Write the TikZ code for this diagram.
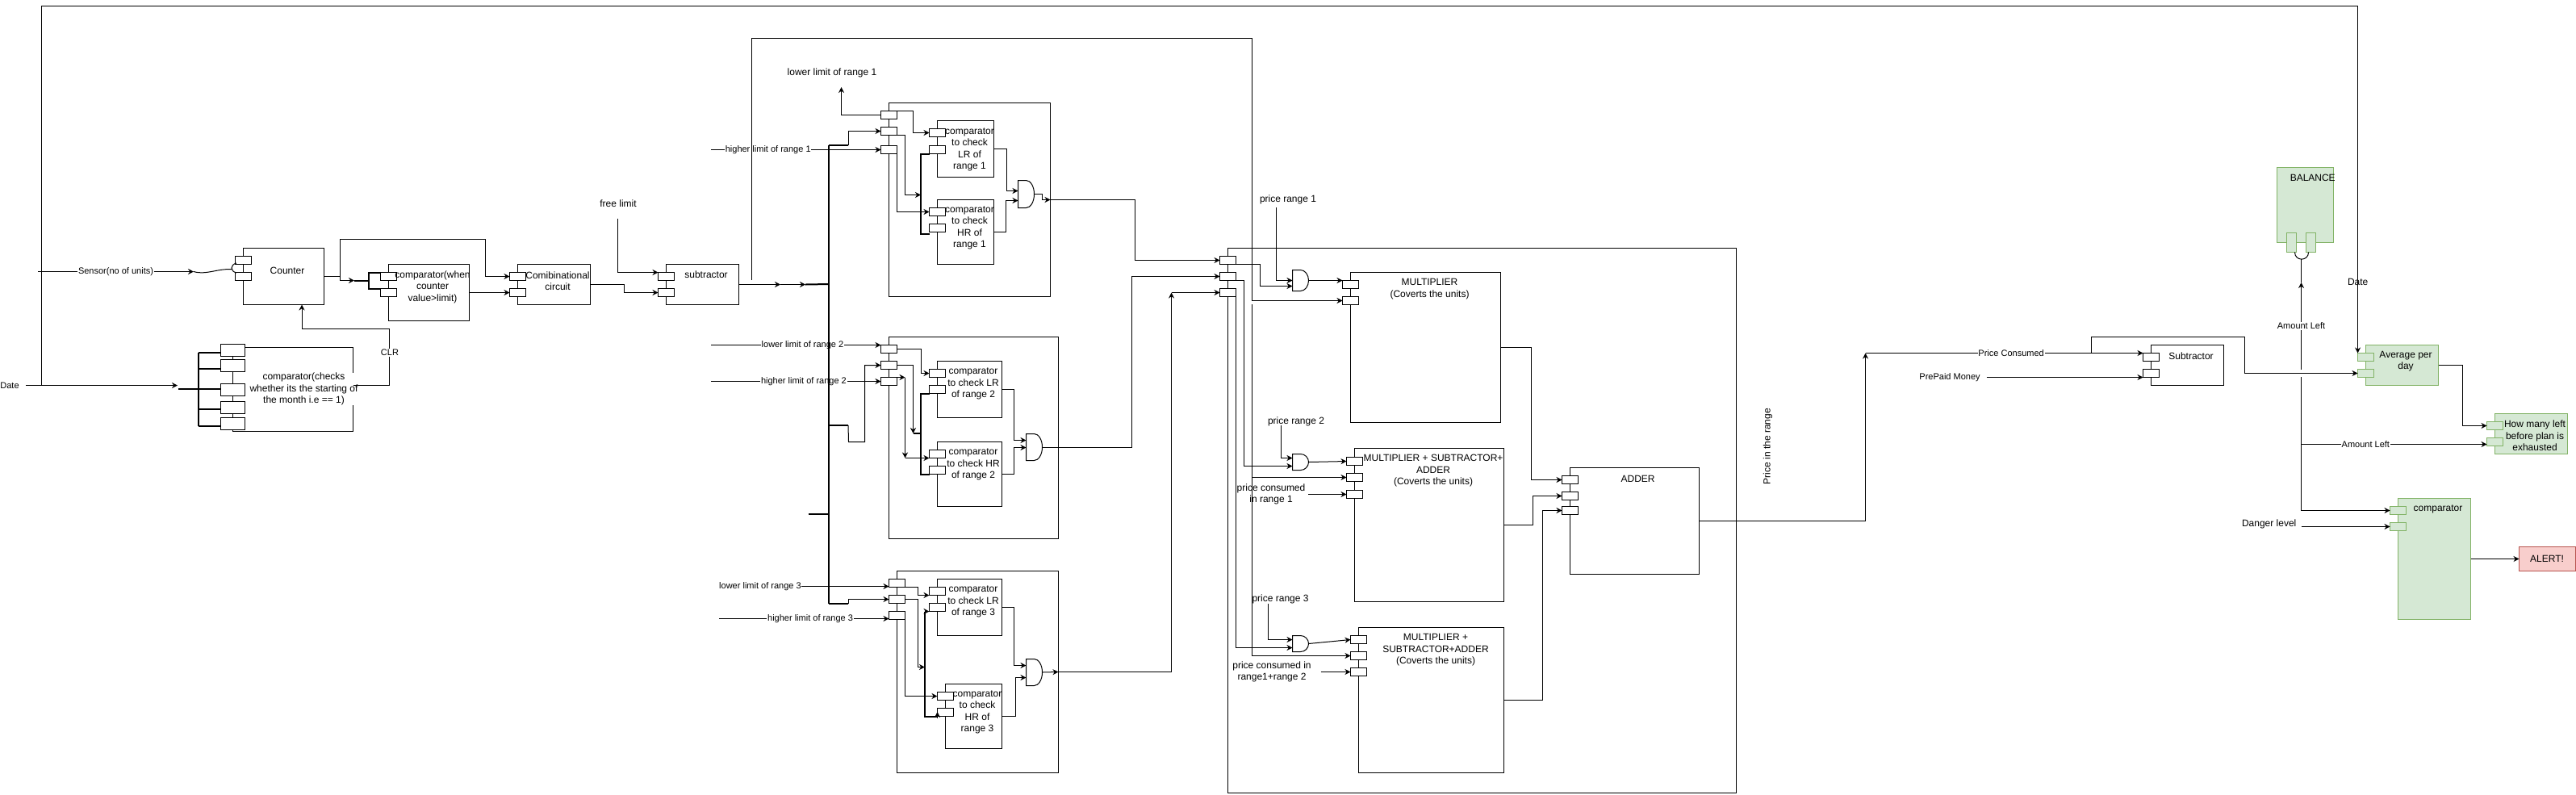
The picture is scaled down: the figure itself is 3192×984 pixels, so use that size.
\documentclass[tikz,border=0pt]{standalone}
\usepackage{fontspec}
\setmainfont{Liberation Sans}
\usetikzlibrary{arrows.meta, positioning, calc}
\definecolor{blockgreen}{HTML}{D5E8D4}
\definecolor{blockgreenline}{HTML}{82B366}
\definecolor{alertred}{HTML}{F8CECC}
\definecolor{alertredline}{HTML}{B85450}
\newcommand{\pxfont}{\fontsize{3.41pt}{4.12pt}\selectfont}
\newcommand{\edgefont}{\fontsize{3.13pt}{4.12pt}\selectfont}
\newcommand{\andoutline}[1]{\draw (#1.north west) -- (#1.south west) -- (#1.south) .. controls ($(#1.south)!0.55!(#1.south east)$) and ($(#1.east)!0.55!(#1.south east)$) .. (#1.east) .. controls ($(#1.east)!0.55!(#1.north east)$) and ($(#1.north)!0.55!(#1.north east)$) .. (#1.north) -- cycle;}
\begin{document}
\begin{tikzpicture}[
  x=0.01cm, y=-0.01cm,
  line width=0.2845pt,
  wh/.style 2 args={minimum width=#1*0.01cm, minimum height=#2*0.01cm},
  blockbox/.style={rectangle, draw=black, fill=white, inner sep=0pt, outer sep=0pt},
  greenbox/.style={rectangle, draw=blockgreenline, fill=blockgreen, inner sep=0pt, outer sep=0pt},
  portbox/.style={blockbox, wh={20}{10}},
  greenport/.style={greenbox, wh={20}{10}},
  gatebox/.style={rectangle, inner sep=0pt, outer sep=0pt},
  boxtext/.style={inner sep=0pt, align=center, font=\pxfont},
  edgelabel/.style={fill=white, inner sep=0.2pt, font=\edgefont},
  wire/.style={-{Stealth[length=2pt,width=2pt]}},
  bus/.style={line width=0.569pt},
]
\useasboundingbox (0,0) rectangle (3192,984);

% Counter stage
\node[blockbox, wh={100}{70}] (counter) at (351.5,342.5) {};
\node[portbox] (cnta) at (301.5,322.5) {};
\node[portbox] (cntb) at (301.5,342.5) {};
\node[boxtext] (countertxt) at (356,335) {Counter};

\node[blockbox, wh={100}{70}] (whenbox) at (531.5,362.5) {};
\node[portbox] (wa) at (481.5,342.5) {};
\node[portbox] (wb) at (481.5,362.5) {};
\node[blockbox, wh={90}{50}] (combbox) at (686.5,352.5) {};
\node[portbox] (comba) at (641.5,342.5) {};
\node[portbox] (combb) at (641.5,362.5) {};
\node[blockbox, wh={90}{50}] (sub) at (870.5,352.5) {};
\node[portbox] (suba) at (825.5,342.5) {};
\node[portbox] (subb) at (825.5,362.5) {};

\node[blockbox, wh={149}{104}] (monthbox) at (363,482.5) {};
\node[portbox, wh={30}{15}, line width=0.5pt] (mc1) at (288.5,434) {};
\node[portbox, wh={30}{15}, line width=0.5pt] (mc2) at (288.5,453) {};
\node[portbox, wh={30}{15}, line width=0.5pt] (mc3) at (288.5,483) {};
\node[portbox, wh={30}{15}, line width=0.5pt] (mc4) at (288.5,505) {};
\node[portbox, wh={30}{15}, line width=0.5pt] (mc5) at (288.5,525) {};

% Range 1
\node[blockbox, wh={200}{240}] (r1) at (1201.5,247.5) {};
\node[portbox] (r1a) at (1101.5,142.5) {};
\node[portbox] (r1b) at (1101.5,162.5) {};
\node[portbox] (r1c) at (1101.5,185.5) {};
\node[blockbox, wh={70}{70}] (lr1) at (1196.5,184.5) {};
\node[portbox] (lr1a) at (1161.5,164.5) {};
\node[portbox] (lr1b) at (1161.5,185.5) {};
\node[blockbox, wh={70}{80}] (hr1) at (1196.5,287.5) {};
\node[portbox] (hr1a) at (1161.5,262.5) {};
\node[portbox] (hr1b) at (1161.5,282.5) {};
\node[gatebox, wh={20}{34}] (g1) at (1271.5,240.5) {};
\andoutline{g1}

% Range 2
\node[blockbox, wh={210}{250}] (r2) at (1206.5,542.5) {};
\node[portbox] (r2a) at (1101.5,432.5) {};
\node[portbox] (r2b) at (1101.5,452.5) {};
\node[portbox] (r2c) at (1101.5,472.5) {};
\node[blockbox, wh={80}{70}] (lr2) at (1201.5,482.5) {};
\node[portbox] (lr2a) at (1161.5,462.5) {};
\node[portbox] (lr2b) at (1161.5,482.5) {};
\node[blockbox, wh={80}{80}] (hr2) at (1201.5,587.5) {};
\node[portbox] (hr2a) at (1161.5,562.5) {};
\node[portbox] (hr2b) at (1161.5,582.5) {};
\node[gatebox, wh={20}{33}] (g2) at (1281.5,554) {};
\andoutline{g2}

% Range 3
\node[blockbox, wh={200}{250}] (r3) at (1211.5,832.5) {};
\node[portbox] (r3a) at (1111.5,722.5) {};
\node[portbox] (r3b) at (1111.5,742.5) {};
\node[portbox] (r3c) at (1111.5,762.5) {};
\node[blockbox, wh={80}{70}] (lr3) at (1201.5,752.5) {};
\node[portbox] (lr3a) at (1161.5,732.5) {};
\node[portbox] (lr3b) at (1161.5,752.5) {};
\node[blockbox, wh={70}{80}] (hr3) at (1206.5,887.5) {};
\node[portbox] (hr3a) at (1171.5,862.5) {};
\node[portbox] (hr3b) at (1171.5,882.5) {};
\node[gatebox, wh={20}{33}] (g3) at (1281.5,833) {};
\andoutline{g3}

% Price frame
\node[blockbox, wh={630}{675}] (pframe) at (1836.5,645) {};
\node[portbox] (mpa) at (1521.5,322.5) {};
\node[portbox] (mpb) at (1521.5,342.5) {};
\node[portbox] (mpc) at (1521.5,362.5) {};
\node[gatebox, wh={20}{26}] (m1) at (1611.5,347.5) {};
\andoutline{m1}
\node[gatebox, wh={20}{20}] (m2) at (1611.5,572.5) {};
\andoutline{m2}
\node[gatebox, wh={20}{20}] (m3) at (1611.5,797.5) {};
\andoutline{m3}
\node[blockbox, wh={186}{186}] (mult) at (1766.5,430.5) {};
\node[portbox] (multa) at (1673.5,352.5) {};
\node[portbox] (multb) at (1673.5,372.5) {};
\node[blockbox, wh={185}{190}] (ms1) at (1771,650.5) {};
\node[portbox] (ms1a) at (1678.5,571.5) {};
\node[portbox] (ms1b) at (1678.5,591.5) {};
\node[portbox] (ms1c) at (1678.5,612.5) {};
\node[blockbox, wh={180}{180}] (ms2) at (1773.5,867.5) {};
\node[portbox] (ms2a) at (1683.5,792.5) {};
\node[portbox] (ms2b) at (1683.5,812.5) {};
\node[portbox] (ms2c) at (1683.5,832.5) {};
\node[blockbox, wh={160}{132}] (adder) at (2025.5,645.5) {};
\node[portbox] (adda) at (1945.5,594.5) {};
\node[portbox] (addb) at (1945.5,614.5) {};
\node[portbox] (addc) at (1945.5,632.5) {};

% Right side blocks
\node[blockbox, wh={90}{50}] (subtr) at (2710.5,452.5) {};
\node[portbox] (sba) at (2665.5,442.5) {};
\node[portbox] (sbb) at (2665.5,462.5) {};
\node[greenbox, wh={70}{93}] (balance) at (2856.5,254) {};
\node[greenbox, wh={12}{24}] (bala) at (2839.5,300.5) {};
\node[greenbox, wh={12}{24}] (balb) at (2863.5,300.5) {};
\node[greenbox, wh={90}{50}] (avg) at (2976.5,452.5) {};
\node[greenport] (avga) at (2931.5,442.5) {};
\node[greenport] (avgb) at (2931.5,462.5) {};
\node[greenbox, wh={90}{50}] (howmany) at (3136.5,537.5) {};
\node[greenport] (hma) at (3091.5,527.5) {};
\node[greenport] (hmb) at (3091.5,547.5) {};
\node[greenbox, wh={90}{150}] (gcomp) at (3016.5,692.5) {};
\node[greenport] (gca) at (2971.5,632.5) {};
\node[greenport] (gcb) at (2971.5,652.5) {};
\node[rectangle, draw=alertredline, fill=alertred, wh={70}{30}, inner sep=0pt, outer sep=0pt] (alert) at (3156.5,692.5) {};

% Free ends and bends
\coordinate (datestart) at (32,477.5);
\coordinate (datejoin) at (51.5,477.5);
\coordinate (datetip) at (220,477.5);
\coordinate (senstart) at (47,336.5);
\coordinate (sentip) at (240,336.5);
\coordinate (senend) at (287,333.5);
\coordinate (cntjoin) at (421.5,342.5);
\coordinate (cnttip) at (439,347.5);
\coordinate (freein) at (765.5,270.5);
\coordinate (sj1) at (967,352.5);
\coordinate (sj2) at (998,352.5);
\coordinate (busin) at (1027,352);
\coordinate (bustop) at (1027,180);
\coordinate (busbot) at (1027,748);
\coordinate (rngstart) at (931.5,347);
\coordinate (secstart) at (1551.5,377);
\coordinate (up3) at (1451.5,362.5);
\coordinate (pr1in) at (1581.5,257);
\coordinate (pr2in) at (1587.5,527);
\coordinate (pr3in) at (1571.5,748);
\coordinate (pc1in) at (1621,612.5);
\coordinate (pc2in) at (1636.5,832.5);
\coordinate (adderup) at (2311.5,437.5);
\coordinate (prepaidin) at (2461.5,467.5);
\coordinate (loopstart) at (2591.5,437.5);
\coordinate (amtup) at (2851.5,458);
\coordinate (amttip) at (2851.5,350);
\coordinate (cupleft) at (2843.5,312.5);
\coordinate (cupright) at (2860.5,312.5);
\coordinate (cupbot) at (2851.5,320.5);
\coordinate (amtdown) at (2851.5,467);
\coordinate (amtbranch) at (2851.5,550.5);
\coordinate (dangerin) at (2851.5,652.5);

% Counter connections
\draw[wire] (senstart) -- node[edgelabel] {Sensor(no of units)} (sentip);
\draw (sentip) .. controls (255,341) and (268,333) .. (senend);
\draw (293,326) .. controls (285,328) and (285,336) .. (293,338);
\draw (counter.east) -- (cntjoin);
\draw[wire] (cntjoin) |- (cnttip);
\draw[bus] (cnttip) -- (457,347.5);
\draw[bus] (wa.north west) -| (457,357.5) -- (wb.north west);
\draw[wire] (cntjoin) |- (601.5,296.5) |- (comba.west);
\draw[wire] (whenbox.east) -- (combb.west);
\draw[wire] (combbox.east) -| (773.5,362.5) -- (subb.west);
\draw[wire] (freein) |- (suba.north west);

% Month check
\draw[wire] (datestart) -- (datetip);
\draw[bus] (221,482) -- (246,482);
\draw[bus] (246,437) -- (246,528);
\draw[bus] (246,437) -- (mc1.west |- 246,437);
\draw[bus] (246,457) -- (mc2.west |- 246,457);
\draw[bus] (246,482) -- (mc3.west |- 246,482);
\draw[bus] (246,507) -- (mc4.west |- 246,507);
\draw[bus] (246,528) -- (mc5.west |- 246,528);
\draw[wire] (datejoin) -- (51.5,7.5) -| (avga.north west);

% Range inputs
\draw[wire] (r1a.west) -| (1042.5,108);
\draw[wire] (881,185.5) -- node[edgelabel, pos=0.336] {higher limit of range 1} (r1c.west);
\draw[wire] (881,427.5) -- node[edgelabel, pos=0.539] {lower limit of range 2} (r2a.north west);
\draw[wire] (881,472.5) -- node[edgelabel, pos=0.546] {higher limit of range 2} (r2c.west);
\draw[wire] (985,726.5) -- (r3a.west |- 0,726.5);
\draw[wire] (891,766.5) -- node[edgelabel, pos=0.537] {higher limit of range 3} (r3c.west |- 0,766.5);

% Subtractor output and bus
\draw[wire] (sub.east) -- (sj1);
\draw[wire] (sj1) -- (sj2);
\draw[bus] (sj2) -- (busin);
\draw[bus] (bustop) -- (busbot);
\draw[bus] (bustop) -- (1051,180);
\draw[wire] (1051,180) |- (r1b.west);
\draw[bus] (1027,527) -- (1051,527);
\draw[wire] (1051,527) -- (1051.5,547.5) -| (1071.5,452.5) -- (r2b.west);
\draw[bus] (1001.5,637) -- (1027,637);
\draw[bus] (busbot) -- (1051,748);
\draw[wire] (1051,748) |- (r3b.west);
\draw[wire] (rngstart) |- (1551.5,47.5) |- (multb.west);
\draw[wire] (secstart) |- (ms1b.west);
\draw[wire] (secstart) |- (ms2b.west);

% Range 1 wires
\draw[wire] (r1a.north east) -| (1131.5,164.5) -- (lr1a.west);
\draw[wire] (r1b.south east) -| (1121.5,241.5) -- (1141,241.5);
\draw[wire] (r1c.south east) |- (hr1a.west);
\draw[bus] (lr1b.south west) -| (1141,290) -- (1151.5,290);
\draw[wire] (lr1.east) -| (1247.5,236.5) -- (g1.west |- 0,236.5);
\draw[wire] (hr1.east) -| (1246.5,248.5) -- (g1.west |- 0,248.5);
\draw[wire] (g1.east) -| (1291.5,247.5) -- (r1.east);
\draw[wire] (r1.east) -| (1406.5,322.5) -- (mpa.west);

% Range 2 wires
\draw[wire] (r2a.east) -| (1141.5,462.5) -- (lr2a.west);
\draw[wire] (r2b.east) -| (1131.5,537);
\draw[bus] (1131.5,537) -- (1141,537);
\draw[wire] (r2c.north east) -- (1121.5,467.5);
\draw[wire] (1121.5,467.5) -- (1121.5,567.5);
\draw[wire] (1121.5,567.5) -- (hr2a.south west);
\draw[bus] (lr2b.south west) -| (1141,587.5) -- (hr2b.south west);
\draw[wire] (lr2.east) -| (1256.5,545.5) -- (g2.west |- 0,545.5);
\draw[wire] (hr2.east) -| (1256.5,554.5) -- (g2.west |- 0,554.5);
\draw[wire] (g2.east) -| (1402.5,342.5) -- (mpb.west);

% Range 3 wires
\draw[wire] (r3a.south east) -| (1137.5,737.5) -- (lr3a.south west);
\draw[wire] (r3b.east) -| (1137.5,826.5) -- (1146,826.5);
\draw[wire] (r3c.south east) |- (hr3a.west);
\draw[bus] (1146,757.5) -- (1146,887.5) -- (hr3b.south west);
\draw[wire] (1146,757.5) -- (lr3b.south west);
\draw[wire] (1161.5,890) -- (1161.5,882);
\draw[wire] (lr3.east) -| (1256.5,824.5) -- (g3.west |- 0,824.5);
\draw[wire] (hr3.east) -| (1258.5,839.5) -- (g3.west |- 0,839.5);
\draw[wire] (g3.east) -- (r3.east);
\draw[wire] (r3.east) -| (up3);
\draw[wire] (up3) -- (mpc.west);

% Price frame wires
\draw[wire] (mpa.south east) -| (1561.5,354.5) -- (m1.west |- 0,354.5);
\draw[wire] (pr1in) |- (m1.west |- 0,347.5);
\draw[wire] (m1.east) -- (multa.north west);
\draw[wire] (mpb.south east) -| (1541.5,577.5) -- (m2.west |- 0,577.5);
\draw[wire] (pr2in) |- (m2.west |- 0,567.5);
\draw[wire] (m2.east) -- (ms1a.west);
\draw[wire] (mpc.south east) |- (m3.west |- 0,802.5);
\draw[wire] (pr3in) |- (m3.west |- 0,792.5);
\draw[wire] (m3.east) -- (ms2a.west);
\draw[wire] (pc1in) -- (ms1c.west);
\draw[wire] (pc2in) -- (ms2c.west);
\draw[wire] (mult.east) -| (1897.5,594.5) -- (adda.west);
\draw[wire] (ms1.east) -| (1899.5,614.5) -- (addb.west);
\draw[wire] (ms2.east) -| (1911.5,632.5) -- (addc.west);

% Right side wires
\draw[wire] (adder.east) -| (adderup);
\draw[wire] (adderup) -- node[edgelabel, pos=0.525] {Price Consumed} (sba.north west);
\draw[wire] (prepaidin) -- (sbb.south west);
\draw[wire] (loopstart) |- (2781.5,417.5) |- (avgb.west);
\draw (cupleft) .. controls (2843.5,324) and (2860.5,324) .. (cupright);
\draw[wire] (amtup) -- node[edgelabel] {Amount Left} (amttip);
\draw (amttip) -- (cupbot);
\draw[wire] (amtdown) |- (gca.west);
\draw[wire] (amtbranch) -- node[edgelabel, pos=0.347] {Amount Left} (hmb.west |- amtbranch);
\draw[wire] (dangerin) -- (gcb.west);
\draw[wire] (avg.east) -| (3051.5,527.5) -- (hma.west);
\draw[wire] (gcomp.east) -- (alert.west);

% Texts
\node[font=\edgefont, inner sep=0pt] (datetxt) at (12,478) {Date};
\node[boxtext] (freelimit) at (766,252) {free limit};
\node[boxtext, fill=white] (monthtxt) at (376.5,482) {comparator(checks\\whether its the starting of\\the month i.e == 1)};
\draw[wire] (monthbox.east |- 0,477.5) -| (482.5,407.5) -| (374,377.5);
\node[edgelabel] (clrtxt) at (483,437) {CLR};
\node[boxtext] (whentxt) at (536,355.5) {comparator(when\\counter\\value>limit)};
\node[boxtext] (combtxt) at (691,348) {Comibinational\\circuit};
\node[boxtext] (subtxt) at (875,340.7) {subtractor};
\node[boxtext] (lower1) at (1031,90) {lower limit of range 1};
\node[boxtext] (lr1txt) at (1201.5,185.5) {comparator\\to check\\LR of\\range 1};
\node[boxtext] (hr1txt) at (1201.5,282.5) {comparator\\to check\\HR of\\range 1};
\node[boxtext] (lr2txt) at (1206,475.5) {comparator\\to check LR\\of range 2};
\node[boxtext] (hr2txt) at (1206,575.5) {comparator\\to check HR\\of range 2};
\node[boxtext] (lr3txt) at (1206,745.5) {comparator\\to check LR\\of range 3};
\node[boxtext] (hr3txt) at (1211,882.5) {comparator\\to check\\HR of\\range 3};
\node[edgelabel] (lower3) at (942,727) {lower limit of range 3};
\node[boxtext] (pr1) at (1596,247) {price range 1};
\node[boxtext] (pr2) at (1606,522) {price range 2};
\node[boxtext] (pr3) at (1586.5,742) {price range 3};
\node[boxtext] (pc1) at (1575,612.5) {price consumed\\in range 1};
\node[boxtext] (pc2) at (1576,832.5) {price consumed in\\range1+range 2};
\node[boxtext] (multtxt) at (1771.5,358) {MULTIPLIER\\(Coverts the units)};
\node[boxtext] (ms1txt) at (1776,583.5) {MULTIPLIER + SUBTRACTOR+\\ADDER\\(Coverts the units)};
\node[boxtext] (ms2txt) at (1779,805.5) {MULTIPLIER +\\SUBTRACTOR+ADDER\\(Coverts the units)};
\node[boxtext] (addtxt) at (2029.6,593) {ADDER};
\node[boxtext, rotate=90] (pricetxt) at (2190.6,553) {Price in the range};
\node[font=\edgefont, inner sep=0pt] (prepaid) at (2416,468) {PrePaid Money};
\node[boxtext] (sbtxt) at (2715,441) {Subtractor};
\node[boxtext] (baltxt) at (2865.7,220) {BALANCE};
\node[boxtext] (datetxt2) at (2921.7,349.7) {Date};
\node[boxtext] (avgtxt) at (2981,447.5) {Average per\\day};
\node[boxtext] (hmtxt) at (3141,540) {How many left\\before plan is\\exhausted};
\node[boxtext] (gctxt) at (3021,630.7) {comparator};
\node[boxtext] (danger) at (2811.7,649.7) {Danger level};
\node[boxtext] (alerttxt) at (3156,692) {ALERT!};

\end{tikzpicture}
\end{document}
